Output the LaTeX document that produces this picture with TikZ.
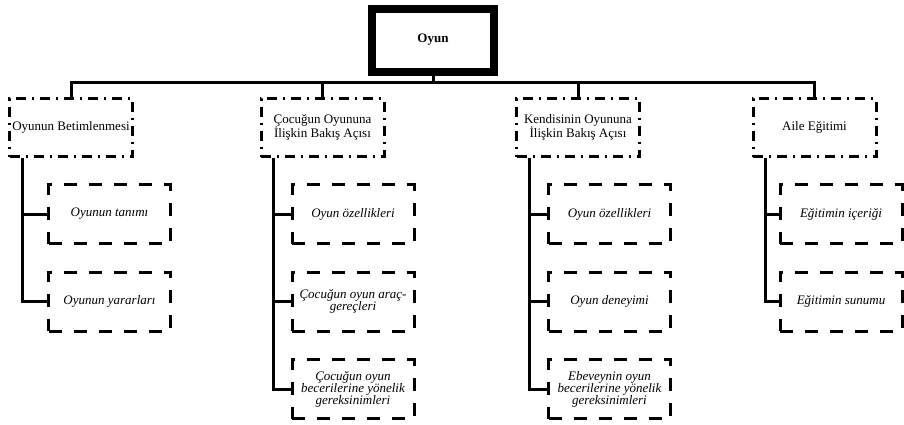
\documentclass[tikz,border=0pt]{standalone}
\usepackage{fontspec}
\setmainfont{Liberation Serif}
\begin{document}
\begin{tikzpicture}[x=1pt,y=-1pt,
		ana/.style={draw,line width=8pt,minimum width=122pt,minimum height=63pt,font=\fontsize{13}{12}\selectfont\bfseries},
		alan/.style={draw,line width=3pt,dash pattern=on 10pt off 6pt on 2pt off 6pt,minimum width=123pt,minimum height=58pt,align=center,inner sep=1pt,font=\fontsize{13}{12}\selectfont},
		alt/.style={draw,line width=3pt,dash pattern=on 13pt off 12pt,minimum width=122pt,minimum height=59pt,align=center,inner sep=1pt,font=\fontsize{13}{12}\selectfont\itshape},
		bag/.style={line width=3pt}]
		    	\useasboundingbox (0,0) rectangle (904,424);
		    	\node[ana] (O) at (433,40) {Oyun};
		    	
		    	\node[alan] (BA) at (71,127.5) {Oyunun Betimlenmesi};
		    	\node[alan] (BB) at (322.5,127.5) {Çocuğun Oyununa\\İlişkin Bakış Açısı};
		    	\node[alan] (BC) at (578,127.5) {Kendisinin Oyununa\\İlişkin Bakış Açısı};
		    	\node[alan] (BD) at (814.5,127.5) {Aile Eğitimi};
		    	
		    	\node[alt] (BA1) at (109.5,214) {Oyunun tanımı};
		    	\node[alt] (BA2) at (109.5,301.5) {Oyunun yararları};
		    	\node[alt] (BB1) at (353,214) {Oyun özellikleri};
		    	\node[alt] (BB2) at (353,301.5) {Çocuğun oyun araç-\\gereçleri};
		    	\node[alt] (BB3) at (353,389) {Çocuğun oyun\\becerilerine yönelik\\gereksinimleri};
		    	\node[alt] (BC1) at (609.5,214) {Oyun özellikleri};
		    	\node[alt] (BC2) at (609.5,301.5) {Oyun deneyimi};
		    	\node[alt] (BC3) at (609.5,389) {Ebeveynin oyun\\becerilerine yönelik\\gereksinimleri};
		    	\node[alt] (BD1) at (841,214) {Eğitimin içeriği};
		    	\node[alt] (BD2) at (841,301.5) {Eğitimin sunumu};
		    	
		    	\coordinate (bus) at (433,82);
		    	\draw[bag] (O.south)--(bus);
		    	\draw[bag] (BA.north) |- (BD.north |- bus) -- (BD.north);
		    	\draw[bag] (BB.north)--(BB.north |- bus);
		    	\draw[bag] (BC.north)--(BC.north |- bus);
		    	
		    	\draw[bag] ([xshift=14pt]BA.south west) |- (BA2.west);
		    	\draw[bag] ([xshift=14pt]BA.south west |- BA1.west)--(BA1.west);
		    	\draw[bag] ([xshift=14pt]BB.south west) |- (BB3.west);
		    	\draw[bag] ([xshift=14pt]BB.south west |- BB1.west)--(BB1.west);
		    	\draw[bag] ([xshift=14pt]BB.south west |- BB2.west)--(BB2.west);
		    	\draw[bag] ([xshift=14pt]BC.south west) |- (BC3.west);
		    	\draw[bag] ([xshift=14pt]BC.south west |- BC1.west)--(BC1.west);
		    	\draw[bag] ([xshift=14pt]BC.south west |- BC2.west)--(BC2.west);
		    	\draw[bag] ([xshift=14pt]BD.south west) |- (BD2.west);
		    	\draw[bag] ([xshift=14pt]BD.south west |- BD1.west)--(BD1.west);
		    \end{tikzpicture}
\end{document}
